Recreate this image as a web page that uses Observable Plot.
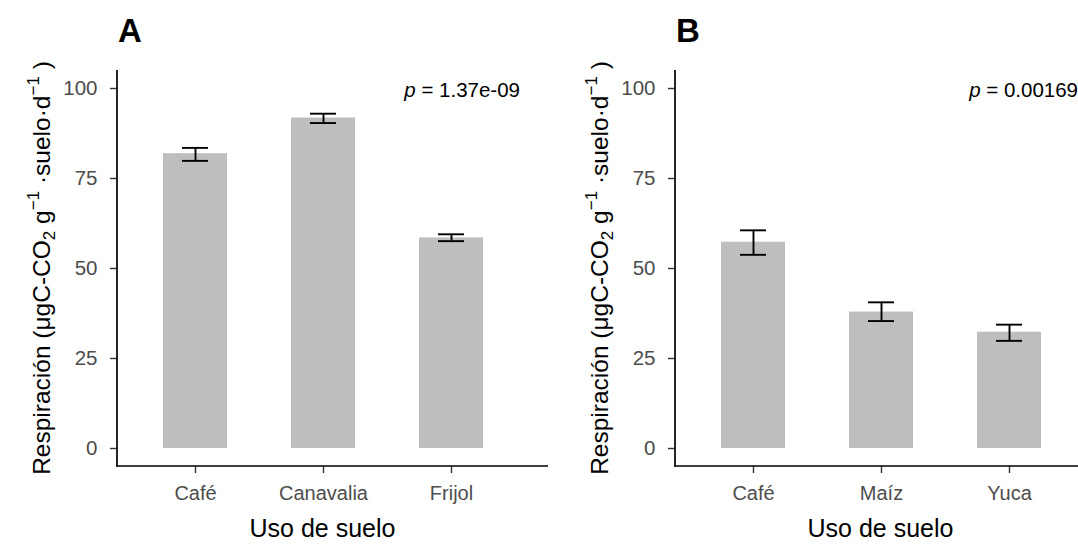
<!DOCTYPE html>
<html>
<head>
<meta charset="utf-8">
<script src="https://cdn.jsdelivr.net/npm/d3@7"></script>
<script src="https://cdn.jsdelivr.net/npm/@observablehq/plot@0.6"></script>
<style>
  html, body { margin: 0; padding: 0; background: #fff; overflow: hidden; }
  #wrap { position: relative; width: 1100px; height: 544px; }
  .panel { position: absolute; top: 0; }
</style>
</head>
<body>
<div id="wrap">
  <div class="panel" id="pA" style="left:0px"></div>
  <div class="panel" id="pB" style="left:558px"></div>
</div>
<script>
// ---- data ----
const catsA = ["Café", "Canavalia", "Frijol"];
const meanA = [81.9, 91.8, 58.5];
const lowA  = [79.9, 90.4, 57.6];
const highA = [83.5, 93.0, 59.5];
const pValueA = "1.37e-09";
const panelA = "A";

const catsB = ["Café", "Maíz", "Yuca"];
const meanB = [57.3, 37.9, 32.3];
const lowB  = [53.8, 35.4, 29.9];
const highB = [60.6, 40.6, 34.4];
const pValueB = "0.00169";
const panelB = "B";

const yTicks = [0, 25, 50, 75, 100];
const xTitle = "Uso de suelo";

const FONT = "'Liberation Sans', Arial, sans-serif";

function makePanel(cats, mean, low, high, pval, tag) {
  const data = cats.map((c, i) => ({cat: c, mean: mean[i], lo: low[i], hi: high[i]}));
  const W = 540, H = 544;
  const plot = Plot.plot({
    width: W, height: H,
    marginLeft: 117, marginRight: 12, marginTop: 70, marginBottom: 78,
    style: {fontFamily: FONT, fontSize: "20px", background: "white", overflow: "visible"},
    x: {domain: cats, paddingInner: 0.5, paddingOuter: 0.35, axis: null, label: null},
    y: {domain: [-5, 105], axis: null, label: null},
    marks: [
      Plot.barY(data, {x: "cat", y: "mean", fill: "#bebebe"}),
      Plot.ruleX(data, {x: "cat", y1: "lo", y2: "hi", stroke: "black", strokeWidth: 1.9}),
      Plot.tickY(data, {x: "cat", y: "lo", stroke: "black", strokeWidth: 1.9, insetLeft: 19, insetRight: 19}),
      Plot.tickY(data, {x: "cat", y: "hi", stroke: "black", strokeWidth: 1.9, insetLeft: 19, insetRight: 19}),
      Plot.axisX({tickSize: 7, tickPadding: 12, stroke: "#333", strokeWidth: 1.4, fill: "#4d4d4d", fontSize: 20, label: null}),
      Plot.axisY({ticks: yTicks, tickSize: 7, tickPadding: 13, stroke: "#333", strokeWidth: 1.4, fill: "#4d4d4d", fontSize: 20.5, label: null})
    ]
  });
  const svg = d3.select(plot);
  const xr = plot.scale("x").range, yr = plot.scale("y").range;
  const x0 = xr[0], x1 = xr[1], yTop = yr[1], yBot = yr[0];
  // axis lines (left & bottom)
  svg.append("line").attr("x1", x0).attr("x2", x0).attr("y1", yTop).attr("y2", yBot + 0.8)
    .attr("stroke", "black").attr("stroke-width", 1.7);
  svg.append("line").attr("x1", x0 - 0.8).attr("x2", x1 + 20).attr("y1", yBot).attr("y2", yBot)
    .attr("stroke", "black").attr("stroke-width", 1.7);
  // p-value
  const pt = svg.append("text").attr("x", x1 - 8).attr("y", yTop + 27)
    .attr("text-anchor", "end").attr("font-family", FONT).attr("font-size", 20.5).attr("fill", "black");
  pt.append("tspan").attr("font-style", "italic").text("p");
  pt.append("tspan").text(" = " + pval);
  // x title
  svg.append("text").attr("x", (x0 + x1) / 2).attr("y", H - 7)
    .attr("text-anchor", "middle").attr("font-family", FONT).attr("font-size", 25).attr("fill", "black")
    .text(xTitle);
  // y title with sub/superscripts
  const yt = svg.append("text")
    .attr("transform", `translate(50,${(yTop + yBot) / 2}) rotate(-90)`)
    .attr("text-anchor", "middle").attr("font-family", FONT).attr("font-size", 24.5).attr("fill", "black");
  yt.append("tspan").text("Respiración (μgC-CO");
  yt.append("tspan").attr("font-size", 17).attr("dy", 5).text("2");
  yt.append("tspan").attr("dy", -5).text(" g");
  yt.append("tspan").attr("font-size", 17).attr("dy", -11).text("−1");
  yt.append("tspan").attr("dy", 11).text(" ·suelo·d");
  yt.append("tspan").attr("font-size", 17).attr("dy", -11).text("−1");
  yt.append("tspan").attr("dy", 11).text(" )");
  // panel tag
  svg.append("text").attr("x", x0 + 1).attr("y", 42).attr("text-anchor", "start").attr("font-family", FONT)
    .attr("font-size", 33).attr("font-weight", "bold").attr("fill", "black").text(tag);
  return plot;
}

document.getElementById("pA").appendChild(makePanel(catsA, meanA, lowA, highA, pValueA, panelA));
document.getElementById("pB").appendChild(makePanel(catsB, meanB, lowB, highB, pValueB, panelB));
</script>
</body>
</html>
